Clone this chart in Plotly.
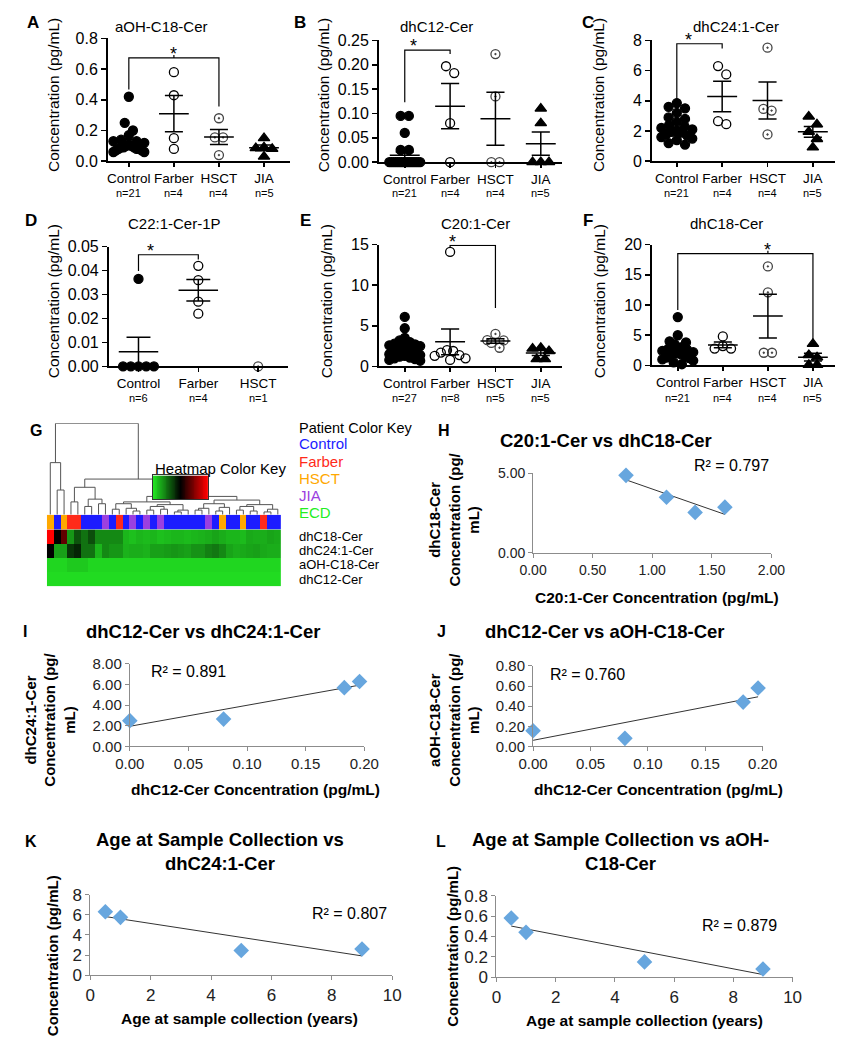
import numpy as np
import plotly.graph_objects as go

W, H = 851, 1050
FONT = "Liberation Sans, Arial, Helvetica, sans-serif"

# ---------------- data ----------------
cats4 = ["Control", "Farber", "HSCT", "JIA"]
cats3 = ["Control", "Farber", "HSCT"]

# A  aOH-C18-Cer
a_control = [0.42, 0.25, 0.20, 0.17, 0.14, 0.13, 0.13, 0.12, 0.11, 0.10, 0.10,
             0.09, 0.09, 0.09, 0.08, 0.08, 0.08, 0.07, 0.07, 0.06, 0.06]
a_farber = [0.58, 0.43, 0.15, 0.08]
a_hsct = [0.28, 0.155, 0.155, 0.04]
a_jia = [0.15, 0.09, 0.085, 0.08, 0.03]

# B  dhC12-Cer
b_control = [0.095, 0.095, 0.06, 0.025, 0.025, 0.0, 0.0, 0.0, 0.0, 0.0, 0.0,
             0.0, 0.0, 0.0, 0.0, 0.0, 0.0, 0.0, 0.0, 0.0, 0.0]
b_farber = [0.197, 0.183, 0.08, 0.0]
b_hsct = [0.222, 0.135, 0.0, 0.0]
b_jia = [0.11, 0.08, 0.0, 0.0, 0.0]

# C  dhC24:1-Cer
c_control = [3.85, 3.6, 3.5, 3.2, 2.9, 2.8, 2.6, 2.4, 2.3, 2.2, 2.1,
             2.0, 1.95, 1.9, 1.8, 1.7, 1.6, 1.5, 1.4, 1.2, 1.1]
c_farber = [6.3, 5.75, 2.65, 2.45]
c_hsct = [7.52, 3.46, 3.35, 1.77]
c_jia = [2.96, 2.44, 1.95, 1.47, 0.91]

# D  C22:1-Cer-1P
d_control = [0.0365, 0.0, 0.0, 0.0, 0.0, 0.0]
d_farber = [0.042, 0.036, 0.027, 0.022]
d_hsct = [0.0]

# E  C20:1-Cer
e_control = [6.1, 4.7, 3.5, 3.2, 3.0, 2.8, 2.7, 2.6, 2.5, 2.4, 2.3, 2.2, 2.1, 2.0,
             1.9, 1.8, 1.7, 1.6, 1.5, 1.4, 1.3, 1.2, 1.1, 1.0, 0.9, 0.8, 0.7]
e_farber = [14.1, 2.0, 1.9, 1.7, 1.4, 1.3, 1.0, 0.8]
e_hsct = [4.0, 3.25, 3.2, 2.9, 2.3]
e_jia = [2.3, 2.2, 1.9, 0.9, 0.9]

# F  dhC18-Cer
f_control = [8.0, 5.0, 4.0, 3.8, 3.5, 3.0, 2.8, 2.6, 2.4, 2.2, 2.0,
             2.0, 1.8, 1.6, 1.5, 1.3, 1.2, 1.0, 0.8, 0.5, 0.2]
f_farber = [4.8, 3.2, 2.8, 2.8]
f_hsct = [16.4, 12.1, 2.1, 2.1]
f_jia = [3.57, 1.73, 1.35, 0.1, 0.1]

# G  heatmap
patient_order = ["HSCT", "Control", "HSCT", "Farber", "Farber", "Control", "Control",
                 "Control", "JIA", "Control", "Farber", "Control", "JIA", "Control",
                 "JIA", "Control", "JIA", "Control", "Control", "Control", "Control",
                 "Control", "Control", "JIA", "Control", "HSCT", "Control", "Control",
                 "HSCT", "Control", "Control", "Farber", "Control", "Control"]
heat_rows = ["dhC18-Cer", "dhC24:1-Cer", "aOH-C18-Cer", "dhC12-Cer"]
heat_dhc18 = [1.0, 0.5, 0.69, 0.17, 0.32, 0.25, 0.33, 0.2, 0.2, 0.2, 0.2, 0.1, 0.08,
              0.1, 0.09, 0.1, 0.08, 0.09, 0.1, 0.1, 0.09, 0.1, 0.11, 0.12, 0.14, 0.12,
              0.1, 0.1, 0.09, 0.13, 0.12, 0.12, 0.14, 0.13]
heat_dhc24 = [0.5, 0.15, 0.15, 0.38, 0.42, 0.25, 0.25, 0.1, 0.2, 0.17, 0.17, 0.11,
              0.12, 0.12, 0.11, 0.15, 0.15, 0.16, 0.17, 0.16, 0.15, 0.18, 0.18, 0.22,
              0.24, 0.2, 0.14, 0.12, 0.13, 0.14, 0.15, 0.13, 0.12, 0.12]
heat_aoh = [0.03, 0.03, 0.03, 0.06, 0.06, 0.06, 0.03, 0.03, 0.03, 0.03, 0.03, 0.03,
            0.03, 0.03, 0.03, 0.03, 0.03, 0.03, 0.03, 0.03, 0.03, 0.03, 0.03, 0.03,
            0.03, 0.03, 0.03, 0.03, 0.03, 0.03, 0.03, 0.03, 0.03, 0.03]
heat_dhc12 = [0.02, 0.02, 0.02, 0.02, 0.02, 0.02, 0.02, 0.02, 0.02, 0.02, 0.02, 0.02,
              0.02, 0.02, 0.02, 0.02, 0.02, 0.02, 0.02, 0.02, 0.02, 0.02, 0.02, 0.02,
              0.02, 0.02, 0.02, 0.02, 0.02, 0.02, 0.02, 0.02, 0.02, 0.02]
# dendrogram: (left, right, merge height), leaves are column indices
dendro_tree = (
    (0, (1, 2, 0.27), 0.57),
    (((3, 4, 0.14), ((5, 6, 0.09), (7, 8, 0.12), 0.17), 0.30),
     ((((9, 10, 0.06), (11, (12, 13, 0.04), 0.07), 0.12),
       (((14, 15, 0.05), (16, 17, 0.06), 0.09), ((18, 19, 0.03), 20, 0.05), 0.11), 0.14),
      ((((21, 22, 0.05), 23, 0.07), ((24, 25, 0.04), 26, 0.08), 0.12),
       (((27, 28, 0.05), (29, 30, 0.04), 0.09), ((31, 32, 0.03), 33, 0.06), 0.11), 0.16),
      0.20),
     0.39),
    1.0)
patient_keys = ["Control", "Farber", "HSCT", "JIA", "ECD"]

# H-L correlation scatters
h_x = [0.78, 1.12, 1.36, 1.61]
h_y = [4.88, 3.5, 2.55, 2.88]
i_x = [0.0, 0.08, 0.183, 0.196]
i_y = [2.5, 2.65, 5.7, 6.3]
j_x = [0.0, 0.08, 0.183, 0.196]
j_y = [0.155, 0.08, 0.44, 0.58]
k_x = [0.5, 1.0, 5.0, 9.0]
k_y = [6.3, 5.75, 2.45, 2.6]
l_x = [0.5, 1.0, 5.0, 9.0]
l_y = [0.58, 0.44, 0.15, 0.08]
r2_labels = ["R² = 0.797", "R² = 0.891", "R² = 0.760", "R² = 0.807", "R² = 0.879"]

# ---------------- helpers ----------------
layout = dict(width=W, height=H, margin=dict(l=0, r=0, t=0, b=0),
              paper_bgcolor="white", plot_bgcolor="rgba(0,0,0,0)",
              showlegend=False, font=dict(family=FONT, color="black"))
annotations = []
traces = []
axis_count = [0]


def new_axes(xdom, ydom, xkw, ykw):
    axis_count[0] += 1
    n = axis_count[0]
    sx = "" if n == 1 else str(n)
    layout["xaxis" + sx] = dict(domain=[xdom[0] / W, xdom[1] / W], anchor="y" + sx, **xkw)
    layout["yaxis" + sx] = dict(domain=[1 - ydom[1] / H, 1 - ydom[0] / H], anchor="x" + sx, **ykw)
    return "x" + sx, "y" + sx


def text(x, y, s, size, bold=False, color="black", xanchor="center", angle=0,
         xref="paper", yanchor="middle"):
    annotations.append(dict(
        x=x / W if xref == "paper" else x, y=1 - y / H, xref=xref, yref="paper",
        text=("<b>%s</b>" % s) if bold else s, showarrow=False,
        font=dict(size=size, color=color, family=FONT),
        xanchor=xanchor, yanchor=yanchor, textangle=angle))


def swarm(vals, ypx, xpx, diam=8.5, limit=16.0):
    v = np.asarray(vals, float)
    order = np.argsort(-v, kind="stable")
    bins = []
    for idx in order:
        if bins and (v[bins[-1][0]] - v[idx]) * ypx < diam:
            bins[-1].append(int(idx))
        else:
            bins.append([int(idx)])
    off = np.zeros(len(v))
    for b in bins:
        k = len(b)
        if k == 1:
            continue
        sp = min(diam, 2 * limit / (k - 1))
        slots = (np.arange(k) - (k - 1) / 2) * sp
        slot_order = np.argsort(np.abs(slots), kind="stable")
        for idx, s in zip(b, slot_order):
            off[idx] = slots[s] / xpx
    return off


# ---------------- dot plots A-F ----------------
symbols = ["circle", "circle-open", "circle-open-dot", "triangle-up"]
sym_colors = ["black", "black", "#444444", "black"]

dot_panels = [
    dict(letter="A", lpos=(10, 14), title="aOH-C18-Cer", tpos=(152, 18), cats=cats4,
         data=[a_control, a_farber, a_hsct, a_jia], axis_px=96, right_px=285, c0=118, d=46.7,
         top=30, bottom=155, ymax=0.8, dtick=0.2, fmt=".1f", ytx=40, yty=88, ny=187,
         br=dict(i=0, j=2, top=0.673, di=0.467, dj=0.357, sx=1.0, tick=1.0)),
    dict(letter="B", lpos=(287, 14), title="dhC12-Cer", tpos=(437, 18), cats=cats4,
         data=[b_control, b_farber, b_hsct, b_jia], axis_px=377, right_px=567, c0=404, d=47,
         top=32, bottom=156, ymax=0.25, dtick=0.05, fmt=".2f", ytx=320, yty=88, ny=187,
         br=dict(i=0, j=1, top=0.23, di=0.123, dj=0.222, sx=0.2, tick=None)),
    dict(letter="C", lpos=(586, 14), title="dhC24:1-Cer", tpos=(747, 18), cats=cats4,
         data=[c_control, c_farber, c_hsct, c_jia], axis_px=660, right_px=850, c0=686, d=47,
         top=32, bottom=155, ymax=8, dtick=2, fmt="d", ytx=605, yty=88, ny=187,
         br=dict(i=0, j=1, top=7.78, di=4.0, dj=7.46, sx=0.25, tick=None)),
    dict(letter="D", lpos=(8, 215), title="C22:1-Cer-1P", tpos=(165, 218), cats=cats3,
         data=[d_control, d_farber, d_hsct], axis_px=97, right_px=283, c0=128, d=62,
         top=242, bottom=364, ymax=0.05, dtick=0.01, fmt=".2f", ytx=40, yty=298, ny=396,
         br=dict(i=0, j=1, top=0.0466, di=0.0398, dj=0.0446, sx=0.2, tick=None)),
    dict(letter="E", lpos=(293, 215), title="C20:1-Cer", tpos=(477, 218), cats=cats4,
         data=[e_control, e_farber, e_hsct, e_jia], axis_px=377, right_px=567, c0=404, d=47,
         top=240, bottom=364, ymax=15, dtick=5, fmt="d", ytx=323, yty=298, ny=396,
         br=dict(i=1, j=2, top=14.9, di=14.6, dj=7.2, sx=1.06, tick=None)),
    dict(letter="F", lpos=(587, 215), title="dhC18-Cer", tpos=(738, 218), cats=cats4,
         data=[f_control, f_farber, f_hsct, f_jia], axis_px=660, right_px=850, c0=687, d=46.7,
         top=240, bottom=363, ymax=20, dtick=5, fmt="d", ytx=606, yty=298, ny=396,
         br=dict(i=0, j=3, top=18.5, di=9.2, dj=3.8, sx=2.0, tick=2.0)),
]

for p in dot_panels:
    k = len(p["data"])
    d = p["d"]
    xr = [(p["axis_px"] - p["c0"]) / d, (p["right_px"] - p["c0"]) / d]
    xa, ya = new_axes(
        (p["axis_px"], p["right_px"]), (p["top"], p["bottom"]),
        dict(range=xr, tickvals=list(range(k)), ticktext=p["cats"][:k], tickangle=0,
             showline=True, linecolor="black", linewidth=1.6, ticks="outside", ticklen=4,
             tickwidth=1.6, tickcolor="black", tickfont=dict(size=13.5, family=FONT),
             showgrid=False, zeroline=False, fixedrange=True),
        dict(range=[0, p["ymax"]], tick0=0, dtick=p["dtick"], tickformat=p["fmt"],
             showline=True, linecolor="black", linewidth=1.6, ticks="outside", ticklen=5,
             tickwidth=1.6, tickcolor="black", tickfont=dict(size=16, family=FONT),
             showgrid=False, zeroline=False, fixedrange=True))
    ypx = (p["bottom"] - p["top"]) / p["ymax"]
    for gi, vals in enumerate(p["data"]):
        off = swarm(vals, ypx, d)
        traces.append(go.Scatter(
            x=gi + off, y=vals, mode="markers", xaxis=xa, yaxis=ya, cliponaxis=False,
            marker=dict(symbol=symbols[gi], size=9 if gi != 3 else 10,
                        color=sym_colors[gi], line=dict(width=1.3, color=sym_colors[gi])),
            hoverinfo="skip"))
    for gi, vals in enumerate(p["data"]):
        v = np.asarray(vals, float)
        if len(v) < 2:
            continue
        m = v.mean()
        se = v.std(ddof=1) / np.sqrt(len(v))
        lx = [gi - 0.33, gi + 0.33, None, gi - 0.2, gi + 0.2, None,
              gi - 0.2, gi + 0.2, None, gi, gi]
        ly = [m, m, None, m + se, m + se, None, m - se, m - se, None, m - se, m + se]
        traces.append(go.Scatter(x=lx, y=ly, mode="lines", xaxis=xa, yaxis=ya,
                                 cliponaxis=False, line=dict(color="black", width=1.5),
                                 hoverinfo="skip"))
    b = p["br"]
    bx = [b["i"], b["i"], b["j"], b["j"]]
    by = [b["di"], b["top"], b["top"], b["dj"]]
    if b["tick"] is not None:
        bx += [None, b["tick"], b["tick"]]
        by += [None, b["top"], b["top"] + p["ymax"] * 0.025]
    traces.append(go.Scatter(x=bx, y=by, mode="lines", xaxis=xa, yaxis=ya,
                             cliponaxis=False, line=dict(color="black", width=1.2),
                             hoverinfo="skip"))
    top_px = p["bottom"] - b["top"] * ypx
    text(b["sx"], top_px - 4, "*", 18, xref=xa)
    # texts
    text(p["lpos"][0], p["lpos"][1], p["letter"], 17, bold=True, xanchor="left")
    text(p["tpos"][0], p["tpos"][1], p["title"], 15)
    text(p["ytx"], p["yty"], "Concentration (pg/mL)", 15.5, angle=-90)
    for gi, vals in enumerate(p["data"]):
        text(gi, p["ny"], "n=%d" % len(vals), 11, xref=xa)

# ---------------- G heatmap ----------------
GX = (33, 276)
pcolors = {"Control": "#1c1cff", "Farber": "#ff2a1a", "HSCT": "#ffa800",
           "JIA": "#9b40e0", "ECD": "#22ee22"}
ncol = len(patient_order)

# dendrogram
xa, ya = new_axes(GX, (422, 515),
                  dict(range=[-0.5, ncol - 0.5], visible=False, fixedrange=True),
                  dict(range=[0, 1], visible=False, fixedrange=True))
dx, dy = [], []


def walk(node):
    if isinstance(node, int):
        return float(node), 0.0
    l, r, h = node
    xl, hl = walk(l)
    xr_, hr = walk(r)
    dx.extend([xl, xl, xr_, xr_, None])
    dy.extend([hl, h, h, hr, None])
    return (xl + xr_) / 2, h


walk(dendro_tree)
traces.append(go.Scatter(x=dx, y=dy, mode="lines", xaxis=xa, yaxis=ya, cliponaxis=False,
                         line=dict(color="#555555", width=1), hoverinfo="skip"))

# patient strip
codes = [cats4.index(g) for g in patient_order]
strip_scale = [[0, pcolors["Control"]], [0.25, pcolors["Control"]],
               [0.25, pcolors["Farber"]], [0.5, pcolors["Farber"]],
               [0.5, pcolors["HSCT"]], [0.75, pcolors["HSCT"]],
               [0.75, pcolors["JIA"]], [1, pcolors["JIA"]]]
xa, ya = new_axes(GX, (515, 530),
                  dict(range=[-0.5, ncol - 0.5], visible=False, fixedrange=True),
                  dict(range=[-0.5, 0.5], visible=False, fixedrange=True))
traces.append(go.Heatmap(z=[codes], x=list(range(ncol)), y=[0], zmin=-0.5, zmax=3.5,
                         colorscale=strip_scale, showscale=False, xaxis=xa, yaxis=ya,
                         hoverinfo="skip"))

# heatmap body
heat_scale = [[0, "#22e422"], [0.5, "#000000"], [1, "#ff0000"]]
xa, ya = new_axes(GX, (530, 588),
                  dict(range=[-0.5, ncol - 0.5], visible=False, fixedrange=True),
                  dict(range=[3.5, -0.5], visible=False, fixedrange=True))
traces.append(go.Heatmap(z=[heat_dhc18, heat_dhc24, heat_aoh, heat_dhc12],
                         x=list(range(ncol)), y=[0, 1, 2, 3], zmin=0, zmax=1,
                         colorscale=heat_scale, showscale=False, xaxis=xa, yaxis=ya,
                         hoverinfo="skip"))

# heatmap color key
key_levels = np.linspace(0, 1, 61)
xa, ya = new_axes((143, 200), (475, 499),
                  dict(range=[-0.5, len(key_levels) - 0.5], showticklabels=False, ticks="",
                       showline=True, mirror=True, linecolor="#333333", linewidth=1,
                       showgrid=False, zeroline=False, fixedrange=True),
                  dict(range=[-0.5, 0.5], showticklabels=False, ticks="", showline=True,
                       mirror=True, linecolor="#333333", linewidth=1, showgrid=False,
                       zeroline=False, fixedrange=True))
traces.append(go.Heatmap(z=[list(key_levels)], zmin=0, zmax=1, colorscale=heat_scale,
                         showscale=False, xaxis=xa, yaxis=ya, hoverinfo="skip"))

text(13, 429, "G", 16, bold=True, xanchor="left")
text(143, 468, "Heatmap Color Key", 15, xanchor="left")
text(292, 427, "Patient Color Key", 14.5, xanchor="left")
for i, g in enumerate(patient_keys):
    text(292, 443 + i * 17.5, g, 15, color=pcolors[g], xanchor="left")
for i, r in enumerate(heat_rows):
    text(292, 537 + i * 14.6, r, 13, xanchor="left")

# ---------------- H-L scatter with trendlines ----------------
sc_panels = [
    dict(letter="H", lpos=(436, 429), title="C20:1-Cer vs dhC18-Cer", tpos=(613, 439),
         x=h_x, y=h_y, r2=r2_labels[0], r2pos=(743, 465), xdom=(537, 784), ydom=(473, 554),
         xr=[0, 2], xd=0.5, xfmt=".2f", yr=[0, 5], yd=5, yfmt=".2f", tfs=14,
         xtitle="C20:1-Cer Concentration (pg/mL)", xtpos=(665, 599),
         ytitle="dhC18-Cer<br>Concentration (pg/<br>mL)", ytpos=(455, 520)),
    dict(letter="I", lpos=(6, 634), title="dhC12-Cer vs dhC24:1-Cer", tpos=(195, 634),
         x=i_x, y=i_y, r2=r2_labels[1], r2pos=(180, 675), xdom=(119, 362), ydom=(667, 751),
         xr=[0, 0.2], xd=0.05, xfmt=".2f", yr=[0, 8], yd=2, yfmt=".2f", tfs=15,
         xtitle="dhC12-Cer Concentration (pg/mL)", xtpos=(249, 795),
         ytitle="dhC24:1-Cer<br>Concentration (pg/<br>mL)", ytpos=(36, 724)),
    dict(letter="J", lpos=(435, 634), title="dhC12-Cer vs aOH-C18-Cer", tpos=(612, 634),
         x=j_x, y=j_y, r2=r2_labels[2], r2pos=(593, 678), xdom=(537, 775), ydom=(669, 751),
         xr=[0, 0.2], xd=0.05, xfmt=".2f", yr=[0, 0.8], yd=0.2, yfmt=".2f", tfs=15,
         xtitle="dhC12-Cer Concentration (pg/mL)", xtpos=(667, 795),
         ytitle="aOH-C18-Cer<br>Concentration (pg/<br>mL)", ytpos=(455, 724)),
    dict(letter="K", lpos=(8, 848), title="Age at Sample Collection vs<br>dhC24:1-Cer",
         tpos=(213, 858), x=k_x, y=k_y, r2=r2_labels[3], r2pos=(347, 921),
         xdom=(78, 391), ydom=(902, 984), xr=[0, 10], xd=2, xfmt="d", yr=[0, 8], yd=2,
         yfmt="d", tfs=17, xtitle="Age at sample collection (years)", xtpos=(233, 1028),
         ytitle="Concentration (pg/mL)", ytpos=(39, 964)),
    dict(letter="L", lpos=(434, 848), title="Age at Sample Collection vs aOH-<br>C18-Cer",
         tpos=(628, 858), x=l_x, y=l_y, r2=r2_labels[4], r2pos=(751, 933),
         xdom=(499, 806), ydom=(903, 986), xr=[0, 10], xd=2, xfmt="d", yr=[0, 0.8],
         yd=0.2, yfmt="", tfs=17, xtitle="Age at sample collection (years)",
         xtpos=(652, 1030), ytitle="Concentration (pg/mL)", ytpos=(454, 954)),
]

AX_GREY = "#8c8c8c"
for p in sc_panels:
    xa, ya = new_axes(
        p["xdom"], p["ydom"],
        dict(range=p["xr"], tick0=0, dtick=p["xd"], tickformat=p["xfmt"], showline=True,
             linecolor=AX_GREY, linewidth=1, ticks="outside", ticklen=4, tickcolor=AX_GREY,
             tickfont=dict(size=p["tfs"], color="#222222", family=FONT), showgrid=False,
             zeroline=False, fixedrange=True),
        dict(range=p["yr"], tick0=0, dtick=p["yd"], tickformat=p["yfmt"], showline=True,
             linecolor=AX_GREY, linewidth=1, ticks="outside", ticklen=4, tickcolor=AX_GREY,
             tickfont=dict(size=p["tfs"], color="#222222", family=FONT), showgrid=False,
             zeroline=False, fixedrange=True))
    xv = np.asarray(p["x"], float)
    yv = np.asarray(p["y"], float)
    slope, icpt = np.polyfit(xv, yv, 1)
    tx = [xv.min(), xv.max()]
    traces.append(go.Scatter(x=tx, y=[slope * t + icpt for t in tx], mode="lines",
                             xaxis=xa, yaxis=ya, cliponaxis=False,
                             line=dict(color="#333333", width=1), hoverinfo="skip"))
    traces.append(go.Scatter(x=xv, y=yv, mode="markers", xaxis=xa, yaxis=ya,
                             cliponaxis=False,
                             marker=dict(symbol="diamond", size=12, color="#67a6de"),
                             hoverinfo="skip"))
    text(p["lpos"][0], p["lpos"][1], p["letter"], 16, bold=True, xanchor="left")
    text(p["tpos"][0], p["tpos"][1], p["title"], 18.5, bold=True)
    text(p["r2pos"][0], p["r2pos"][1], p["r2"], 16)
    text(p["xtpos"][0], p["xtpos"][1], p["xtitle"], 15.5, bold=True)
    text(p["ytpos"][0], p["ytpos"][1], p["ytitle"], 15, bold=True, angle=-90)

layout["annotations"] = annotations
fig = go.Figure(data=traces, layout=layout)
fig.write_html("out.html",
               config={"displayModeBar": False, "staticPlot": True},
               post_script="document.body.style.margin='0';"
                           "document.body.style.padding='0';"
                           "document.body.style.overflow='hidden';")
